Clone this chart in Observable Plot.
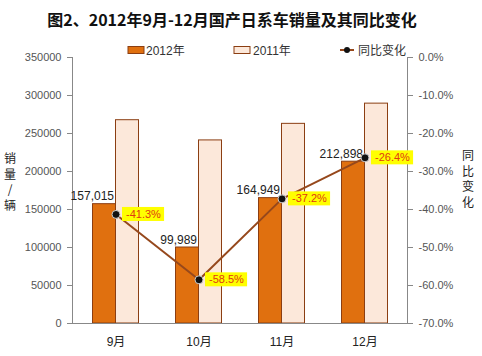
<!DOCTYPE html>
<html><head><meta charset="utf-8">
<script src="https://cdn.jsdelivr.net/npm/d3@7"></script>
<script src="https://cdn.jsdelivr.net/npm/@observablehq/plot@0.6"></script>
<style>body{margin:0;background:#fff;} #chart svg{display:block;}</style>
</head><body><div id="chart"></div>
<script>
const title = "图2、2012年9月-12月国产日系车销量及其同比变化";
const months = ["9月", "10月", "11月", "12月"];
const sales2012 = [157015, 99989, 164949, 212898];
const sales2011 = [267500, 240900, 262700, 289300];
const yoy = [-41.3, -58.5, -37.2, -26.4];
const leftTicks = [0, 50000, 100000, 150000, 200000, 250000, 300000, 350000];
const rightTicks = [0, -10, -20, -30, -40, -50, -60, -70];
const seriesNames = ["2012年", "2011年", "同比变化"];
const leftLabel = ["销", "量", "/", "辆"];
const rightLabel = ["同", "比", "变", "化"];

const yMax = 350000, pMin = -70, pMax = 0;
const toY = p => (p - pMin) / (pMax - pMin) * yMax;
const fromY = v => v / yMax * (pMax - pMin) + pMin;

const C12 = "#E0700F", C11 = "#FCE8DA", CEdge = "#8B3E12", CLine = "#96481C";
const FONT = "'Liberation Sans','Noto Sans CJK SC',sans-serif";

const data = months.map((m, i) => ({month: m, s12: sales2012[i], s11: sales2011[i], yoy: yoy[i], yy: toY(yoy[i])}));
const pctText = d => d.toFixed(1) + "%";

const plot = Plot.plot({
  width: 482, height: 356,
  marginTop: 57, marginBottom: 33, marginLeft: 72, marginRight: 75,
  style: {fontFamily: FONT, fontSize: "11px", background: "#fff", color: "#444", overflow: "visible"},
  x: {domain: months, paddingInner: 0.725, paddingOuter: 0.3625, label: null},
  y: {domain: [0, yMax], label: null},
  marks: [
    Plot.barY(data, {x: "month", y: "s12", dx: -11.5, fill: C12, stroke: CEdge, strokeWidth: 1}),
    Plot.barY(data, {x: "month", y: "s11", dx: 11.5, fill: C11, stroke: CEdge, strokeWidth: 1}),
    Plot.axisY(leftTicks, {anchor: "left", tickSize: 5, tickPadding: 6, label: null, stroke: "#888", fill: "#555", tickFormat: d => String(d)}),
    Plot.axisY(rightTicks.map(toY), {anchor: "right", tickSize: 5, tickPadding: 6, label: null, stroke: "#888", fill: "#555", tickFormat: d => pctText(fromY(d))}),
    Plot.axisX({tickSize: 0, tickPadding: 14, label: null, fontSize: 12, fill: "#222"}),
    Plot.frame({anchor: "left", stroke: "#888"}),
    Plot.frame({anchor: "right", stroke: "#888"}),
    Plot.ruleY([0], {stroke: "#888", insetLeft: -4, insetRight: -4}),
    Plot.text(data, {x: "month", y: "s12", text: d => d3.format(",")(d.s12), textAnchor: "end", dx: -2, dy: -4, lineAnchor: "bottom", fontSize: 12, fill: "#222"}),
    Plot.line(data, {x: "month", y: "yy", stroke: CLine, strokeWidth: 2}),
    Plot.dot(data, {x: "month", y: "yy", r: 4, fill: "#111", stroke: "#ccc", strokeWidth: 1}),
    Plot.text(data, {x: "month", y: "yy", text: d => pctText(d.yoy), textAnchor: "start", dx: 10, fontSize: 11, fill: "#E03A10"})
  ]
});
document.getElementById("chart").appendChild(plot);

const svg = d3.select(plot);
// yellow boxes behind percentage labels
const pctSet = new Set(yoy.map(pctText));
svg.selectAll("text").filter(function() { return pctSet.has(this.textContent); }).each(function() {
  const b = this.getBBox();
  const r = document.createElementNS("http://www.w3.org/2000/svg", "rect");
  r.setAttribute("x", b.x - 4); r.setAttribute("y", b.y - 1);
  r.setAttribute("width", b.width + 7); r.setAttribute("height", b.height + 2);
  r.setAttribute("fill", "#FFFF00"); r.setAttribute("stroke", "none");
  const t = this.getAttribute("transform"); if (t) r.setAttribute("transform", t);
  this.parentNode.insertBefore(r, this);
});

// title
svg.append("text").attr("x", 232).attr("y", 26).attr("text-anchor", "middle")
  .attr("font-family", "'Noto Sans CJK SC',sans-serif").attr("font-weight", "bold").attr("font-size", 16)
  .attr("fill", "#111").text(title);

// legend
const lg = svg.append("g").attr("font-family", FONT).attr("font-size", 12).attr("fill", "#333").attr("text-anchor", "start");
lg.append("rect").attr("x", 128).attr("y", 46.5).attr("width", 16).attr("height", 7).attr("fill", C12).attr("stroke", CEdge);
lg.append("text").attr("x", 146).attr("y", 54.5).text(seriesNames[0]);
lg.append("rect").attr("x", 234).attr("y", 46.5).attr("width", 16).attr("height", 7).attr("fill", C11).attr("stroke", CEdge);
lg.append("text").attr("x", 253).attr("y", 54.5).text(seriesNames[1]);
lg.append("line").attr("x1", 340).attr("x2", 354).attr("y1", 50).attr("y2", 50).attr("stroke", CLine).attr("stroke-width", 2);
lg.append("circle").attr("cx", 347).attr("cy", 50).attr("r", 3).attr("fill", "#111");
lg.append("text").attr("x", 358).attr("y", 54.5).text(seriesNames[2]);

// axis titles (vertical stacked characters)
const al = svg.append("g").attr("font-family", "'Noto Sans CJK SC',sans-serif").attr("font-size", 12).attr("fill", "#222").attr("text-anchor", "middle");
leftLabel.forEach((c, i) => al.append("text").attr("x", 10).attr("y", 163 + i * 15.5).text(c));
rightLabel.forEach((c, i) => al.append("text").attr("x", 468).attr("y", 160 + i * 15.5).text(c));
</script>
</body></html>
